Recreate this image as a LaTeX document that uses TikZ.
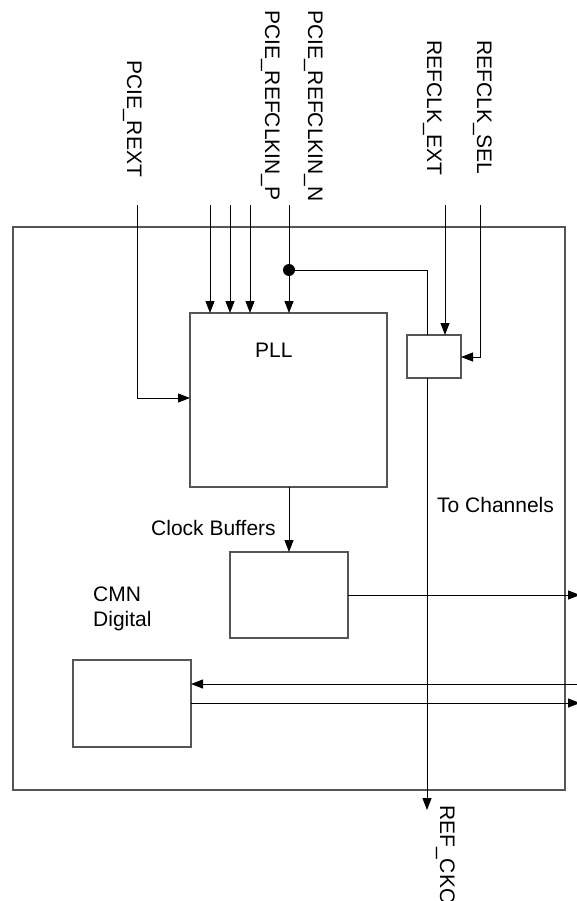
\documentclass[tikz,border=0pt]{standalone}
\usepackage{fontspec}
\setmainfont{Liberation Sans}
\usetikzlibrary{arrows.meta}
\definecolor{boxgray}{HTML}{555555}
\begin{document}
\begin{tikzpicture}[x=1pt,y=-1pt,
  box/.style={draw=boxgray, line width=1.1pt, inner sep=0pt, outer sep=0pt, anchor=north west},
  wire/.style={draw=black, line width=1pt},
  arr/.style={wire, -{Triangle[length=12pt,width=9pt]}},
  lbl/.style={inner sep=0pt, font=\fontsize{21}{25}\selectfont},
  vlbl/.style={lbl, rotate=-90, anchor=base west},
  dot/.style={circle, fill=black, inner sep=0pt, minimum size=12pt}]
\useasboundingbox (0,0) rectangle (576,901);

% boxes
\node[box, minimum width=552pt, minimum height=563pt] (outer) at (13,227) {};
\node[box, minimum width=197pt, minimum height=174pt] (pll) at (190,313) {};
\node[box, minimum width=54pt, minimum height=43pt] (sel) at (407,335) {};
\node[box, minimum width=118pt, minimum height=86pt] (cb) at (230,552) {};
\node[box, minimum width=118pt, minimum height=87pt] (cmn) at (73,660) {};

% horizontal labels
\node[lbl, anchor=base west] (pllt) at (255,357) {PLL};
\node[lbl, anchor=base west] (cbt) at (151,535) {Clock Buffers};
\node[lbl, anchor=base west, align=left] (cmnt) at (93,626) {CMN\\Digital};
\node[lbl, anchor=base west] (tch) at (437,512) {To Channels};

% vertical labels
\node[vlbl] (lrext) at (127,60) {PCIE\_REXT};
\node[vlbl] (lp) at (265,10) {PCIE\_REFCLKIN\_P};
\node[vlbl] (ln) at (308,10) {PCIE\_REFCLKIN\_N};
\node[vlbl] (lext) at (427,40) {REFCLK\_EXT};
\node[vlbl] (lsel) at (477,40) {REFCLK\_SEL};
\node[vlbl] (lcko) at (440,805) {REF\_CKO};

% input coordinates
\coordinate (rin) at (137,205);
\coordinate (a1) at (210,205);
\coordinate (a2) at (230,205);
\coordinate (a3) at (250,205);
\coordinate (nin) at (289,205);
\coordinate (ein) at (445,205);
\coordinate (sin) at (480,205);
\coordinate (cko) at (427,810);
\coordinate (r1) at (580,595);
\coordinate (r2) at (578,684);
\coordinate (r3) at (580,703);

\node[dot] (j) at (289,270) {};

% connectors
\draw[arr] (rin) |- (pll.west |- 0,398);
\draw[arr] (a1) -- (a1 |- pll.north);
\draw[arr] (a2) -- (a2 |- pll.north);
\draw[arr] (a3) -- (a3 |- pll.north);
\draw[arr] (nin) -- (nin |- pll.north);
\draw[wire] (j.center) -| (427,335);
\draw[arr] (ein) -- (ein |- sel.north);
\draw[arr] (sin) |- (sel.east |- 0,357);
\draw[arr] (427,378) -- (cko);
\draw[arr] (289,487) -- (289,552);
\draw[arr] (cb.east |- 0,595) -- (r1);
\draw[arr] (r2) -- (cmn.east |- r2);
\draw[arr] (cmn.east |- r3) -- (r3);
\end{tikzpicture}
\end{document}
